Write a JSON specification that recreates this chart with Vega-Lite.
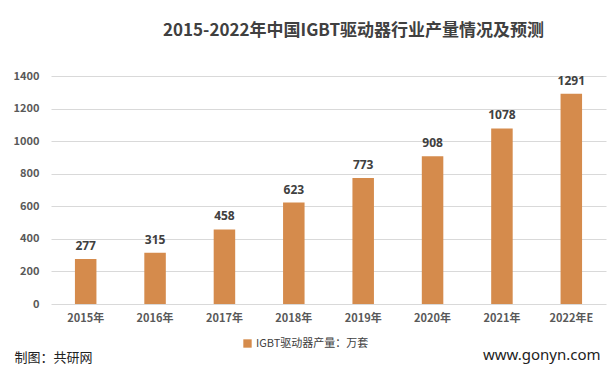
{
  "$schema": "https://vega.github.io/schema/vega-lite/v6.json",
  "autosize": {"type": "none"},
  "width": 555,
  "height": 228,
  "padding": {"left": 51, "top": 76, "right": 9, "bottom": 67},
  "background": "white",
  "title": {
    "text": "2015-2022年中国IGBT驱动器行业产量情况及预测",
    "font": "Noto Sans CJK SC",
    "fontSize": 17,
    "fontWeight": "bold",
    "color": "#404040",
    "anchor": "middle",
    "dx": 25,
    "offset": 30
  },
  "data": {
    "values": [
      {"year": "2015年", "value": 277, "series": "IGBT驱动器产量：万套"},
      {"year": "2016年", "value": 315, "series": "IGBT驱动器产量：万套"},
      {"year": "2017年", "value": 458, "series": "IGBT驱动器产量：万套"},
      {"year": "2018年", "value": 623, "series": "IGBT驱动器产量：万套"},
      {"year": "2019年", "value": 773, "series": "IGBT驱动器产量：万套"},
      {"year": "2020年", "value": 908, "series": "IGBT驱动器产量：万套"},
      {"year": "2021年", "value": 1078, "series": "IGBT驱动器产量：万套"},
      {"year": "2022年E", "value": 1291, "series": "IGBT驱动器产量：万套"}
    ]
  },
  "encoding": {
    "x": {
      "field": "year",
      "type": "nominal",
      "sort": null,
      "scale": {"paddingInner": 0.69, "paddingOuter": 0.345},
      "axis": {
        "title": "制图：共研网",
        "titleFont": "Noto Sans CJK SC",
        "titleFontSize": 13,
        "titleFontWeight": "normal",
        "titleColor": "#222222",
        "titleAnchor": "start",
        "titleAlign": "left",
        "titleBaseline": "middle",
        "titleX": -37,
        "titleY": 53,
        "labelAngle": 0,
        "labelFont": "Noto Sans CJK SC",
        "labelFontSize": 11,
        "labelFontWeight": "bold",
        "labelColor": "#595959",
        "labelPadding": 8,
        "domain": false,
        "ticks": false,
        "grid": false
      }
    },
    "y": {
      "field": "value",
      "type": "quantitative",
      "scale": {"domain": [0, 1400]},
      "axis": {
        "values": [0, 200, 400, 600, 800, 1000, 1200, 1400],
        "format": "d",
        "title": "www.gonyn.com",
        "titleFont": "Noto Sans",
        "titleFontSize": 15,
        "titleFontWeight": "normal",
        "titleColor": "#222222",
        "titleAngle": 0,
        "titleAlign": "right",
        "titleBaseline": "middle",
        "titleX": 549,
        "titleY": 278,
        "labelFont": "Noto Sans CJK SC",
        "labelFontSize": 11,
        "labelFontWeight": "bold",
        "labelColor": "#595959",
        "labelPadding": 12,
        "domain": false,
        "ticks": false,
        "grid": true,
        "gridColor": "#d9d9d9",
        "gridWidth": 1
      }
    }
  },
  "layer": [
    {
      "mark": {"type": "bar", "color": "#D58B4C"},
      "encoding": {
        "color": {
          "field": "series",
          "type": "nominal",
          "scale": {"range": ["#D58B4C"]},
          "legend": {
            "title": null,
            "orient": "none",
            "legendX": 191,
            "legendY": 262,
            "symbolType": "square",
            "symbolSize": 70,
            "symbolStrokeWidth": 0,
            "labelFont": "Noto Sans CJK SC",
            "labelFontSize": 11,
            "labelColor": "#404040",
            "labelOffset": 3
          }
        }
      }
    },
    {
      "mark": {
        "type": "text",
        "dy": -13,
        "font": "Noto Sans",
        "fontSize": 12,
        "fontWeight": "bold",
        "color": "#404040"
      },
      "encoding": {
        "text": {"field": "value", "type": "quantitative"}
      }
    }
  ],
  "config": {
    "view": {"stroke": null}
  }
}
